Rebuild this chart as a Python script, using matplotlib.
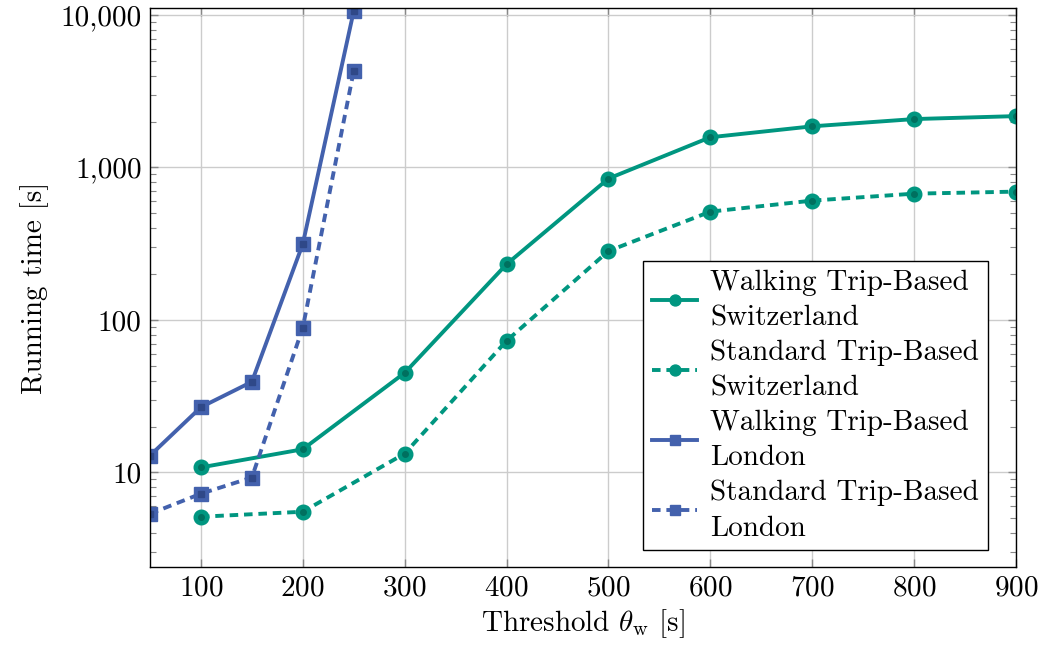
import matplotlib
matplotlib.use("Agg")
import matplotlib.pyplot as plt
from matplotlib.ticker import FuncFormatter, LogLocator, FixedLocator

plt.rcParams['font.family'] = 'cmr10'
plt.rcParams['mathtext.fontset'] = 'cm'
plt.rcParams['axes.formatter.use_mathtext'] = True

# data
x_ch = [100, 200, 300, 400, 500, 600, 700, 800, 900]
walk_ch = [10.8, 14.2, 45, 232, 845, 1577, 1860, 2075, 2170]
std_ch = [5.13, 5.53, 13.3, 73, 283, 513, 606, 673, 694]

x_ldn = [50, 100, 150, 200, 250]
walk_ldn = [12.9, 26.8, 39.3, 315, 10600]
std_ldn = [5.36, 7.26, 9.27, 89, 4300]

xticks = [100, 200, 300, 400, 500, 600, 700, 800, 900]
yticks = [10, 100, 1000, 10000]

green = '#009680'
green_dark = '#00705f'
blue = '#4361ad'
blue_dark = '#2f4888'

fig = plt.figure(figsize=(10.4, 6.49), dpi=100)
ax = fig.add_axes([0.1442, 0.1263, 0.8327, 0.8614])

series = [
    (x_ch, walk_ch, green, green_dark, 'o', '-', 'Walking Trip-Based\nSwitzerland'),
    (x_ch, std_ch, green, green_dark, 'o', '--', 'Standard Trip-Based\nSwitzerland'),
    (x_ldn, walk_ldn, blue, blue_dark, 's', '-', 'Walking Trip-Based\nLondon'),
    (x_ldn, std_ldn, blue, blue_dark, 's', '--', 'Standard Trip-Based\nLondon'),
]

handles = []
for xs, ys, c, cd, m, ls, lab in series:
    ln, = ax.plot(xs, ys, color=c, lw=2.8, ls=ls, marker=m, markersize=10.5,
                  markerfacecolor=c, markeredgecolor=c, label=lab)
    if ls == '--':
        ln.set_dashes((2.2, 1.5))
    ax.plot(xs, ys, ls='none', marker=m, markersize=4, color=cd)
    handles.append(ln)

ax.set_yscale('log')
ax.set_xlim(50, 900)
ax.set_ylim(2.4, 11100)
ax.xaxis.set_major_locator(FixedLocator(xticks))
ax.yaxis.set_major_locator(FixedLocator(yticks))
ax.yaxis.set_minor_locator(LogLocator(base=10, subs=range(2, 10)))
ax.yaxis.set_major_formatter(FuncFormatter(lambda v, p: '{:,.0f}'.format(v)))
ax.yaxis.set_minor_formatter(FuncFormatter(lambda v, p: ''))

ax.grid(True, which='major', color='#cccccc', lw=1)
ax.set_axisbelow(True)
ax.tick_params(which='both', direction='in', top=True, right=True, labelsize=21,
               color='#888888')
ax.tick_params(which='major', length=6, width=1, pad=6)
ax.tick_params(which='minor', length=4, width=0.8)
for s in ax.spines.values():
    s.set_linewidth(1)

ax.set_xlabel(r'Threshold $\theta_\mathrm{w}$ [s]', fontsize=21, labelpad=4)
ax.set_ylabel('Running time [s]', fontsize=21, labelpad=8)

leg = ax.legend(handles=handles, loc='lower right', bbox_to_anchor=(0.9677, 0.03),
                borderaxespad=0, fontsize=21, frameon=True, fancybox=False,
                framealpha=1, edgecolor='black', handlelength=1.55,
                labelspacing=0.28, borderpad=0.3, handletextpad=0.45,
                markerscale=0.75)
for t in leg.get_texts():
    t.set_linespacing(1.45)
leg.get_frame().set_linewidth(1)

fig.savefig('out.png', dpi=100)
